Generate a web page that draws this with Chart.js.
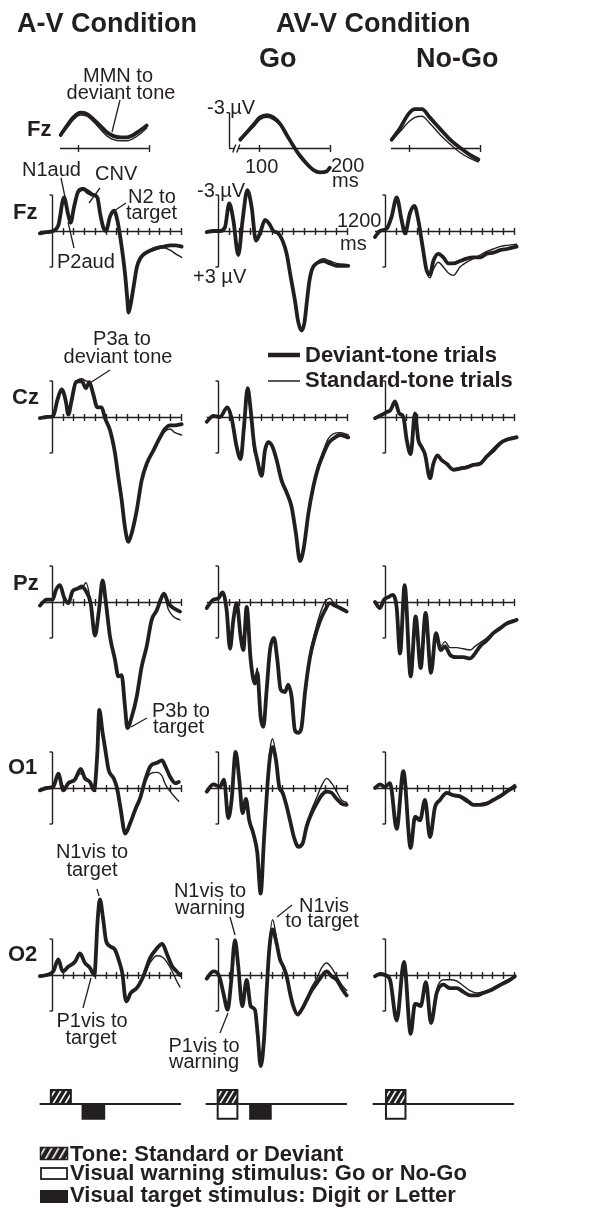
<!DOCTYPE html>
<html>
<head>
<meta charset="utf-8">
<script src="https://cdn.jsdelivr.net/npm/chart.js@4.4.1/dist/chart.umd.min.js"></script>
<style>
  body { margin: 0; width: 602px; height: 1215px; position: relative; overflow: hidden; background: #fff;
         font-family: "Liberation Sans", Arial, Helvetica, sans-serif; color: #231f20; }
  canvas { position: absolute; }
  svg { position: absolute; left: 0; top: 0; }
  .t { position: absolute; white-space: nowrap; line-height: 1; }
</style>
</head>
<body>
<script>
const INK = '#231f20';

// --- Data: times in ms, amplitudes in µV (negative plotted up) ---
const TIME_TICKS = [100, 200, 300, 400, 500, 600, 700, 800, 900, 1000, 1100, 1200];
const MMN_TICKS = [100, 200];

// MMN insets (Fz, 75-200 ms)
const MMN_AV_T = [75, 84, 93, 103, 112, 122, 131, 141, 150, 160, 169, 178, 188, 197];
const MMN_AV_DEV = [-1.1, -1.9, -2.6, -3.0, -2.9, -2.4, -1.9, -1.3, -1.0, -0.9, -0.9, -1.1, -1.5, -1.9];
const MMN_AV_STD = [-1.0, -1.7, -2.4, -2.8, -2.7, -2.2, -1.6, -1.0, -0.7, -0.6, -0.6, -0.8, -1.2, -1.7];
const MMN_GO_T = [73, 82, 92, 101, 111, 120, 130, 139, 149, 158, 168, 177, 186, 196, 200];
const MMN_GO_DEV = [-0.7, -1.3, -2.0, -2.6, -2.8, -2.6, -2.0, -1.1, -0.1, 0.7, 1.4, 1.9, 2.1, 2.0, 1.7];
const MMN_GO_STD = [-0.6, -1.2, -1.8, -2.4, -2.6, -2.4, -1.9, -1.0, 0.0, 0.8, 1.5, 1.9, 2.1, 2.0, 1.7];
const MMN_NOGO_T = [75, 87, 99, 108, 118, 129, 144, 158, 172, 186, 198];
const MMN_NOGO_DEV = [-0.7, -1.7, -2.9, -3.3, -3.3, -2.6, -1.6, -0.7, 0.0, 0.6, 1.0];
const MMN_NOGO_STD = [-0.6, -1.4, -2.2, -2.6, -2.7, -2.1, -1.1, -0.3, 0.4, 0.9, 1.2];

// Fz
const FZ_AV_T = [-112, -50, 10, 60, 112, 150, 174, 205, 245, 290, 338, 384, 422, 447, 477, 502, 540, 577, 608, 640, 680, 700, 712, 730, 760, 790, 820, 860, 920, 980, 1040, 1100, 1150, 1206];
const FZ_AV_DEV = [0.2, 0.1, 0, -0.5, -2.8, -1.4, -0.7, -2.0, -3.3, -3.5, -3.2, -3.0, -2.8, -1.5, -0.3, 0, -1.2, -1.7, -0.9, 0.8, 3.6, 5.6, 6.8, 6.2, 4.6, 3.0, 2.3, 1.9, 1.6, 1.4, 1.3, 1.2, 1.2, 1.3];
const FZ_AV_STD = [0.2, 0.1, 0, -0.5, -2.7, -1.3, -0.6, -2.0, -3.2, -3.6, -3.4, -3.1, -2.8, -1.5, -0.3, 0, -1.1, -1.6, -0.8, 0.9, 3.6, 5.6, 6.7, 6.1, 4.5, 3.0, 2.3, 1.9, 1.7, 1.5, 1.4, 1.6, 1.9, 2.2];
const FZ_GO_T = [-105, -45, 20, 65, 105, 143, 189, 229, 273, 313, 353, 391, 437, 477, 515, 561, 601, 639, 676, 716, 747, 778, 805, 828, 850, 875, 918, 980, 1042, 1104, 1212];
const FZ_GO_DEV = [0.1, 0, 0, -0.3, -2.3, -0.9, 2.0, -0.9, -3.4, -2.0, 0.8, 0.2, -0.9, -0.6, 0, 0.2, 0.8, 1.9, 3.8, 5.8, 7.6, 8.3, 7.6, 5.8, 4.2, 3.2, 2.7, 2.5, 2.7, 2.9, 2.9];
const FZ_GO_STD = [0.1, 0, 0, -0.3, -2.2, -0.8, 1.9, -0.8, -3.3, -2.0, 0.6, 0.0, -1.0, -0.7, -0.1, 0.2, 0.8, 1.9, 3.8, 5.8, 7.6, 8.3, 7.6, 5.8, 4.2, 3.1, 2.6, 2.3, 2.5, 2.7, 2.8];
const FZ_NOGO_T = [-93, -47, 16, 62, 109, 155, 186, 233, 273, 310, 350, 388, 419, 450, 496, 543, 589, 636, 698, 760, 822, 884, 946, 1008, 1070, 1132, 1225];
const FZ_NOGO_DEV = [0.5, 0, -0.2, -1.2, -2.8, -0.9, 0.2, -1.5, -2.1, -0.9, 1.3, 3.3, 3.6, 2.5, 1.9, 2.2, 2.7, 2.7, 2.5, 2.3, 2.2, 2.2, 1.9, 1.8, 1.6, 1.5, 1.3];
const FZ_NOGO_STD = [0.5, 0, -0.2, -1.2, -2.7, -0.9, 0.2, -1.4, -2.0, -0.8, 1.4, 3.4, 3.9, 3.2, 2.6, 3.0, 3.5, 3.7, 3.0, 2.6, 2.3, 2.0, 1.7, 1.5, 1.3, 1.2, 1.1];

// Cz
const CZ_AV_T = [-112, -50, 12, 50, 90, 127, 152, 183, 223, 276, 316, 347, 384, 422, 462, 493, 540, 586, 617, 648, 679, 710, 741, 788, 834, 881, 943, 1005, 1051, 1098, 1144, 1206];
const CZ_AV_DEV = [0.1, 0, -0.1, -1.4, -2.3, -1.4, -0.2, -1.4, -2.9, -3.0, -2.4, -2.9, -1.9, -0.8, -0.8, 0.1, 1.1, 3.0, 5.0, 6.9, 9.2, 10.4, 9.7, 7.8, 5.3, 3.9, 2.8, 1.7, 1.0, 0.7, 0.7, 0.6];
const CZ_AV_STD = [0.1, 0, -0.1, -1.4, -2.3, -1.4, -0.2, -1.4, -2.9, -3.2, -3.0, -2.9, -1.9, -0.8, -0.8, 0.1, 1.1, 3.0, 5.0, 6.9, 9.2, 10.3, 9.6, 7.7, 5.3, 3.9, 2.8, 1.8, 1.2, 1.0, 1.3, 1.5];
const CZ_GO_T = [-105, -43, 19, 87, 127, 174, 211, 242, 276, 304, 335, 366, 406, 437, 468, 508, 546, 592, 639, 685, 725, 763, 800, 840, 887, 933, 980, 1026, 1073, 1135, 1212];
const CZ_GO_DEV = [0.4, -0.1, 0, -0.8, 0.1, 2.5, 3.5, 0.8, -2.4, -0.6, 2.2, 3.6, 4.9, 2.8, 2.1, 2.5, 3.6, 5.3, 6.3, 7.5, 9.7, 12.0, 10.8, 8.1, 5.8, 4.2, 3.1, 2.2, 1.8, 1.5, 1.7];
const CZ_GO_STD = [0.4, -0.1, 0, -0.8, 0.1, 2.3, 3.2, 0.8, -2.2, -0.6, 2.8, 3.4, 4.6, 2.8, 2.1, 2.5, 3.6, 5.3, 6.3, 7.5, 9.7, 11.9, 10.7, 8.0, 5.6, 4.0, 2.8, 1.8, 1.4, 1.3, 1.5];
const CZ_NOGO_T = [-93, -47, 16, 53, 93, 133, 171, 202, 239, 279, 310, 341, 372, 419, 450, 487, 527, 574, 636, 698, 760, 822, 884, 946, 1008, 1070, 1132, 1225];
const CZ_NOGO_DEV = [0.1, -0.1, -0.4, -0.6, -1.3, -0.3, 0, 1.9, 3.1, -0.3, 1.9, 2.5, 3.1, 5.1, 3.9, 3.2, 3.6, 3.9, 4.4, 4.3, 4.2, 4.0, 3.9, 3.3, 2.8, 2.2, 1.9, 1.7];
const CZ_NOGO_STD = [0.1, -0.1, -0.4, -0.6, -1.2, -0.3, 0, 1.8, 2.9, -0.2, 1.9, 2.5, 3.0, 4.9, 3.8, 3.2, 3.6, 3.9, 4.3, 4.2, 4.1, 3.9, 3.8, 3.2, 2.6, 2.1, 1.8, 1.6];

// Pz
const PZ_AV_T = [-112, -50, 6, 37, 74, 112, 152, 192, 236, 276, 316, 360, 400, 437, 471, 502, 540, 586, 617, 648, 679, 701, 741, 788, 834, 881, 927, 974, 1020, 1042, 1082, 1129, 1191];
const PZ_AV_DEV = [0.3, -0.2, -0.2, -1.0, -1.4, -0.4, 0.1, -0.9, -1.1, -1.3, -0.9, 0.1, 2.8, 0.7, -1.8, 0.1, 2.9, 4.8, 6.2, 6.1, 8.7, 10.5, 9.6, 7.9, 5.4, 3.7, 1.5, 0.7, -0.4, -0.7, 0.1, 0.5, 0.8];
const PZ_AV_STD = [0.3, -0.2, -0.2, -1.0, -1.4, -0.4, 0.1, -0.9, -1.1, -1.1, -1.6, 0.0, 2.7, 0.7, -1.8, 0.1, 2.9, 4.8, 6.2, 6.1, 8.6, 10.4, 9.6, 7.9, 5.4, 3.7, 1.5, 0.6, -0.5, -0.6, 0.6, 1.2, 1.5];
const PZ_GO_T = [-105, -43, 3, 43, 81, 112, 143, 174, 211, 236, 267, 304, 344, 366, 397, 422, 453, 484, 521, 552, 583, 623, 654, 685, 716, 747, 778, 809, 856, 902, 949, 995, 1042, 1088, 1135, 1197];
const PZ_GO_DEV = [0.5, -0.2, -0.3, -0.8, 0.7, 3.9, 1.5, 0.1, 2.9, 4.0, 0.4, 4.8, 6.8, 5.9, 9.6, 10.4, 7.3, 4.0, 3.0, 4.8, 7.3, 7.5, 6.9, 7.9, 10.7, 10.9, 10.4, 7.6, 4.6, 2.9, 1.6, 0.7, 0.1, 0.3, 0.5, 0.8];
const PZ_GO_STD = [0.5, -0.2, -0.3, -0.8, 0.7, 3.7, 1.5, 0.1, 2.8, 3.8, 0.5, 4.6, 6.3, 5.5, 9.2, 10.2, 7.2, 4.0, 3.1, 4.8, 7.2, 7.4, 6.8, 7.8, 10.6, 10.8, 10.3, 7.4, 4.3, 2.5, 1.0, 0.0, -0.3, 0.2, 0.4, 0.7];
const PZ_NOGO_T = [-93, -47, -9, 31, 71, 109, 140, 183, 239, 285, 332, 378, 428, 474, 518, 558, 605, 667, 729, 791, 837, 884, 946, 1008, 1070, 1132, 1225];
const PZ_NOGO_DEV = [0, 0.5, -0.2, -0.4, -0.6, 0.5, 4.3, -1.4, 6.2, 1.2, 5.5, 0.9, 5.9, 2.6, 4.0, 3.7, 4.4, 4.6, 4.6, 4.7, 4.3, 3.7, 3.2, 2.6, 2.2, 1.8, 1.5];
const PZ_NOGO_STD = [0, 0.5, -0.2, -0.4, -0.6, 0.5, 4.0, -1.3, 5.8, 1.2, 5.2, 1.0, 5.5, 2.6, 3.7, 3.3, 3.8, 3.8, 3.9, 4.0, 3.7, 3.4, 3.0, 2.5, 2.1, 1.7, 1.4];

// O1
const O1_AV_T = [-112, -50, 12, 59, 105, 152, 214, 267, 307, 353, 391, 422, 440, 471, 496, 527, 574, 605, 636, 682, 729, 775, 822, 868, 915, 977, 1024, 1055, 1101, 1148, 1179];
const O1_AV_DEV = [0.2, 0, -0.1, -1.2, 0.2, -0.4, -0.7, -1.6, -0.8, -0.5, 0.2, -2.9, -6.5, -4.6, -3.2, -1.5, -0.8, 0, 1.6, 3.8, 2.9, 1.8, 0.8, -0.7, -1.8, -2.1, -2.3, -1.8, -0.9, -0.4, -0.5];
const O1_AV_STD = [0.2, 0, -0.1, -1.1, 0.2, -0.4, -0.8, -1.2, -0.9, -0.5, 0.2, -2.9, -6.4, -4.6, -3.2, -1.5, -0.8, 0, 1.5, 3.6, 2.8, 1.6, 0.7, -0.5, -1.2, -1.3, -1.0, -0.3, 0.3, 0.8, 1.1];
const O1_GO_T = [-105, -43, 19, 56, 96, 127, 164, 198, 229, 260, 291, 329, 366, 397, 428, 459, 484, 508, 540, 570, 601, 632, 670, 707, 747, 788, 825, 871, 918, 964, 1011, 1057, 1104, 1150, 1197];
const O1_GO_DEV = [0.3, -0.3, -0.1, -0.7, 2.5, 1.0, -3.0, -0.7, 2.1, 0.9, 2.7, 3.8, 5.4, 8.8, 4.3, -0.1, -2.6, -3.4, -2.3, -0.1, 0.4, 1.3, 2.7, 4.1, 4.9, 4.6, 3.2, 2.1, 1.3, 0.6, 0.3, 0.4, 0.9, 1.3, 1.4];
const O1_GO_STD = [0.3, -0.3, -0.1, -0.7, 2.4, 1.0, -2.9, -0.7, 2.0, 0.9, 2.6, 3.6, 5.2, 8.6, 4.2, -0.5, -3.2, -4.1, -2.6, -0.3, 0.3, 1.2, 2.6, 4.0, 4.8, 4.5, 3.0, 1.8, 0.8, -0.2, -0.8, -0.4, 0.3, 1.0, 1.2];
const O1_NOGO_T = [-93, -47, 0, 47, 109, 171, 239, 279, 326, 372, 419, 465, 512, 574, 636, 698, 760, 822, 884, 946, 1008, 1070, 1132, 1209];
const O1_NOGO_DEV = [0, -0.3, -0.1, -0.4, 3.4, -1.4, 5.0, 2.4, 2.7, 1.0, 4.1, 1.6, 1.0, 0.4, 0.6, 0.7, 1.0, 1.4, 1.4, 1.3, 1.0, 0.7, 0.3, -0.1];
const O1_NOGO_STD = [0, -0.3, -0.1, -0.4, 3.3, -1.3, 4.8, 2.3, 2.5, 1.0, 3.9, 1.6, 0.9, 0.5, 0.7, 0.8, 1.2, 1.3, 1.3, 1.2, 0.9, 0.6, 0.2, -0.3];

// O2
const O2_AV_T = [-112, -50, 12, 59, 99, 152, 214, 260, 307, 353, 394, 425, 446, 477, 502, 540, 586, 626, 657, 679, 694, 732, 788, 850, 912, 974, 1026, 1067, 1113, 1160, 1191];
const O2_AV_DEV = [0.1, 0, -0.3, -1.3, -0.3, -0.7, -1.1, -1.8, -1.0, -0.6, 0, -4.6, -6.3, -4.6, -2.9, -2.4, -2.1, -1.1, 0, 1.8, 2.2, 1.5, 1.1, 0.1, -1.4, -2.2, -2.6, -1.8, -0.8, -0.3, 0];
const O2_AV_STD = [0.1, 0, -0.3, -1.2, -0.3, -0.7, -1.1, -1.7, -1.0, -0.6, 0, -4.5, -6.2, -4.6, -2.9, -2.4, -2.0, -1.1, 0, 1.7, 2.0, 1.4, 1.0, 0.2, -1.0, -1.6, -1.5, -1.1, -0.4, 0.5, 1.0];
const O2_GO_T = [-105, -43, 12, 50, 90, 121, 158, 189, 226, 267, 304, 344, 369, 397, 428, 453, 477, 508, 546, 577, 608, 639, 670, 701, 741, 778, 825, 871, 918, 964, 1011, 1057, 1104, 1150, 1197];
const O2_GO_DEV = [0.3, -0.3, 0.1, 1.5, 2.9, 0.7, -2.9, -0.7, 2.6, 0.4, 2.6, 2.9, 4.9, 7.6, 5.4, 1.3, -2.1, -3.8, -2.6, -1.3, -0.7, 0.1, 1.5, 2.6, 3.3, 2.9, 2.1, 1.3, 0.7, 0.1, -0.3, 0.1, 0.4, 1.1, 1.7];
const O2_GO_STD = [0.3, -0.3, 0.1, 1.4, 2.7, 0.7, -2.8, -0.7, 2.5, 0.4, 2.5, 2.8, 4.7, 7.4, 5.2, 1.0, -2.6, -4.6, -3.0, -1.4, -0.7, 0.1, 1.5, 2.6, 3.2, 2.8, 1.9, 1.0, 0.3, -0.6, -1.0, -0.6, 0.1, 0.8, 1.3];
const O2_NOGO_T = [-93, -47, 0, 47, 109, 177, 239, 279, 332, 381, 428, 481, 543, 605, 667, 729, 791, 853, 915, 977, 1039, 1101, 1163, 1209];
const O2_NOGO_DEV = [0.1, -0.1, 0, 0.4, 3.8, -1.1, 4.9, 2.4, 2.6, 0.6, 4.0, 1.5, 0.8, 1.1, 1.1, 1.4, 1.7, 1.7, 1.5, 1.3, 1.0, 0.7, 0.4, 0.1];
const O2_NOGO_STD = [0.1, -0.1, 0, 0.4, 3.6, -1.0, 4.7, 2.3, 2.4, 0.6, 3.7, 1.2, 0.4, 0.4, 0.5, 0.9, 1.3, 1.5, 1.4, 1.2, 0.9, 0.6, 0.3, 0.1];

// Stimulus timing (ms) per column: A-V, AV-V Go, AV-V No-Go
const TONE_BOX = [[-20, 185], [-12, 190], [0, 200]];
const WARN_BOX = [null, [-12, 190], [0, 200]];
const TARGET_BOX = [[275, 495], [290, 500], null];

// --- Layout ---
const PX_PER_MS = 0.1075, PX_PER_UV = 12;
const COL_X0 = [52, 218, 385];
const ROW_Y0 = { Fz: 231, Cz: 417, Pz: 602, O1: 788, O2: 975 };
const MMN_X100 = [78, 259, 409], MMN_Y0 = 148, MMN_PX_PER_MS = 0.705, MMN_PX_PER_UV = 11.7;
const TIMELINE_Y0 = 1104;

const PANELS = [
  ['Fz', 0, FZ_AV_T, FZ_AV_DEV, FZ_AV_STD], ['Fz', 1, FZ_GO_T, FZ_GO_DEV, FZ_GO_STD], ['Fz', 2, FZ_NOGO_T, FZ_NOGO_DEV, FZ_NOGO_STD],
  ['Cz', 0, CZ_AV_T, CZ_AV_DEV, CZ_AV_STD], ['Cz', 1, CZ_GO_T, CZ_GO_DEV, CZ_GO_STD], ['Cz', 2, CZ_NOGO_T, CZ_NOGO_DEV, CZ_NOGO_STD],
  ['Pz', 0, PZ_AV_T, PZ_AV_DEV, PZ_AV_STD], ['Pz', 1, PZ_GO_T, PZ_GO_DEV, PZ_GO_STD], ['Pz', 2, PZ_NOGO_T, PZ_NOGO_DEV, PZ_NOGO_STD],
  ['O1', 0, O1_AV_T, O1_AV_DEV, O1_AV_STD], ['O1', 1, O1_GO_T, O1_GO_DEV, O1_GO_STD], ['O1', 2, O1_NOGO_T, O1_NOGO_DEV, O1_NOGO_STD],
  ['O2', 0, O2_AV_T, O2_AV_DEV, O2_AV_STD], ['O2', 1, O2_GO_T, O2_GO_DEV, O2_GO_STD], ['O2', 2, O2_NOGO_T, O2_NOGO_DEV, O2_NOGO_STD]
];
const MMN_PANELS = [
  [0, MMN_AV_T, MMN_AV_DEV, MMN_AV_STD], [1, MMN_GO_T, MMN_GO_DEV, MMN_GO_STD], [2, MMN_NOGO_T, MMN_NOGO_DEV, MMN_NOGO_STD]
];

// --- Plugins ---
function seg(ctx, a, b, c, d) { ctx.beginPath(); ctx.moveTo(a, b); ctx.lineTo(c, d); ctx.stroke(); }

const erpAxes = {
  id: 'erpAxes',
  beforeDatasetsDraw(chart, args, o) {
    const { ctx, scales: { x, y } } = chart;
    const zy = Math.round(y.getPixelForValue(0)) + 0.5;
    ctx.save();
    ctx.strokeStyle = INK;
    ctx.lineWidth = 1.4;
    const x1 = x.getPixelForValue(o.from), x2 = x.getPixelForValue(o.to);
    if (o.brk != null) {
      const bx = x.getPixelForValue(o.brk);
      seg(ctx, x1, zy, bx - 2, zy);
      seg(ctx, bx + 2, zy, x2, zy);
      seg(ctx, bx - 4, zy + 4, bx - 1, zy - 4);
      seg(ctx, bx, zy + 4, bx + 3, zy - 4);
    } else {
      seg(ctx, x1, zy, x2, zy);
    }
    o.ticks.forEach(t => {
      const px = Math.round(x.getPixelForValue(t)) + 0.5;
      seg(ctx, px, zy - 3.5, px, zy + 3.5);
    });
    if (o.bar) {
      const bx = Math.round(x.getPixelForValue(o.bar[0])) + 0.5;
      const y1 = y.getPixelForValue(o.bar[1]), y2 = y.getPixelForValue(o.bar[2]);
      seg(ctx, bx, y1, bx, y2);
      seg(ctx, bx - 3, y1, bx, y1);
      if (o.bar[2] !== 0) seg(ctx, bx - 3, y2, bx, y2);
    }
    ctx.restore();
  }
};

const stimBoxes = {
  id: 'stimBoxes',
  afterDraw(chart, args, o) {
    const { ctx, scales: { x, y } } = chart;
    const zy = y.getPixelForValue(0);
    ctx.save();
    ctx.strokeStyle = INK;
    ctx.lineWidth = 2;
    seg(ctx, x.getPixelForValue(o.from), zy, x.getPixelForValue(o.to), zy);
    const box = (r, lo, hi) => {
      const bx = x.getPixelForValue(r[0]), bw = x.getPixelForValue(r[1]) - bx;
      const by = y.getPixelForValue(hi), bh = y.getPixelForValue(lo) - by;
      return [bx, by, bw, bh];
    };
    if (o.tone) {
      const [bx, by, bw, bh] = box(o.tone, 0, 1);
      ctx.fillStyle = INK;
      ctx.fillRect(bx, by, bw, bh);
      ctx.save();
      ctx.beginPath(); ctx.rect(bx + 2, by + 2, bw - 4, bh - 3); ctx.clip();
      ctx.strokeStyle = '#fff'; ctx.lineWidth = 1.6;
      for (let k = -bh; k < bw + bh; k += 6) seg(ctx, bx + k, by + bh, bx + k + bh * 0.6, by);
      ctx.restore();
    }
    if (o.warn) {
      const [bx, by, bw, bh] = box(o.warn, -1.05, 0);
      ctx.fillStyle = '#fff';
      ctx.fillRect(bx, by, bw, bh);
      ctx.lineWidth = 2;
      ctx.strokeRect(bx + 1, by, bw - 2, bh - 1);
    }
    if (o.target) {
      const [bx, by, bw, bh] = box(o.target, -1.05, 0);
      ctx.fillStyle = INK;
      ctx.fillRect(bx, by, bw, bh);
    }
    ctx.restore();
  }
};

// --- Chart factory ---
function pts(t, v) { return t.map((ms, i) => ({ x: ms, y: v[i] })); }

function makeChart(cfg) {
  const cv = document.createElement('canvas');
  cv.width = cfg.width; cv.height = cfg.height;
  cv.style.left = cfg.left + 'px'; cv.style.top = cfg.top + 'px';
  document.body.appendChild(cv);
  const xmax = cfg.xmin + cfg.width / cfg.pxms;
  const ymax = cfg.ymin + cfg.height / cfg.pxuv;
  return new Chart(cv.getContext('2d'), {
    type: 'line',
    data: { datasets: cfg.datasets || [] },
    options: {
      responsive: false, animation: false, events: [], devicePixelRatio: 1,
      layout: { padding: 0, autoPadding: false },
      elements: { point: { radius: 0 } },
      plugins: { legend: { display: false }, tooltip: { enabled: false }, erpAxes: cfg.axes || false, stimBoxes: cfg.stim || false },
      scales: {
        x: { type: 'linear', min: cfg.xmin, max: xmax, display: false },
        y: { type: 'linear', min: cfg.ymin, max: ymax, reverse: cfg.reverse, display: false }
      }
    },
    plugins: cfg.plugins
  });
}

function traces(t, dev, std) {
  const common = { borderColor: INK, cubicInterpolationMode: 'monotone', borderJoinStyle: 'round', borderCapStyle: 'round', fill: false, clip: false };
  return [
    { ...common, data: pts(t, std), borderWidth: 1.4 },
    { ...common, data: pts(t, dev), borderWidth: 3.8 }
  ];
}

// main ERP panels
PANELS.forEach(([row, col, t, dev, std]) => {
  const xmin = -130, ymin = -8;
  makeChart({
    left: COL_X0[col] + xmin * PX_PER_MS, top: ROW_Y0[row] + ymin * PX_PER_UV,
    width: 152, height: 264, xmin, ymin, pxms: PX_PER_MS, pxuv: PX_PER_UV, reverse: true,
    datasets: traces(t, dev, std),
    axes: { from: t[0], to: 1200, ticks: TIME_TICKS, bar: [0, -3, 3] },
    plugins: [erpAxes]
  });
});

// MMN insets
MMN_PANELS.forEach(([col, t, dev, std]) => {
  const xmin = 40, ymin = -4.6;
  const x0 = MMN_X100[col] - 100 * MMN_PX_PER_MS;
  const axes = col === 1
    ? { from: 57, to: 200, ticks: MMN_TICKS, bar: [57, -3, 0], brk: 68 }
    : { from: t[0] - 1, to: 200, ticks: MMN_TICKS };
  makeChart({
    left: x0 + xmin * MMN_PX_PER_MS, top: MMN_Y0 + ymin * MMN_PX_PER_UV,
    width: 126, height: 96, xmin, ymin, pxms: MMN_PX_PER_MS, pxuv: MMN_PX_PER_UV, reverse: true,
    datasets: traces(t, dev, std), axes, plugins: [erpAxes]
  });
});

// stimulus timelines
COL_X0.forEach((x0, col) => {
  const xmin = -130, ymin = -1.6, pxu = 15;
  makeChart({
    left: x0 + xmin * PX_PER_MS, top: TIMELINE_Y0 - 1.6 * pxu,
    width: 152, height: 48, xmin, ymin, pxms: PX_PER_MS, pxuv: pxu, reverse: false,
    stim: { from: -115, to: 1200, tone: TONE_BOX[col], warn: WARN_BOX[col], target: TARGET_BOX[col] },
    plugins: [stimBoxes]
  });
});

// --- Overlay: pointer lines and legend keys ---
const POINTERS = [
  [120, 100, 112, 132], [61, 178, 65, 197], [100, 188, 89, 203], [126, 203, 114, 211], [68, 222, 74, 248],
  [110, 370, 90, 383], [147, 718, 131, 727], [97, 889, 99, 896], [83, 1008, 91, 978],
  [230, 917, 235, 935], [292, 905, 277, 917], [220, 1033, 228, 1013]
];
let svg = '<svg width="602" height="1215" xmlns="http://www.w3.org/2000/svg">' +
  '<defs><pattern id="hatch" width="6" height="6" patternUnits="userSpaceOnUse" patternTransform="rotate(30)">' +
  '<rect width="6" height="6" fill="' + INK + '"/><rect width="1.6" height="6" fill="#fff"/></pattern></defs>';
POINTERS.forEach(p => {
  svg += `<line x1="${p[0]}" y1="${p[1]}" x2="${p[2]}" y2="${p[3]}" stroke="${INK}" stroke-width="1.3"/>`;
});
svg += `<line x1="268" y1="355" x2="300" y2="355" stroke="${INK}" stroke-width="4.5"/>`;
svg += `<line x1="268" y1="381" x2="300" y2="381" stroke="${INK}" stroke-width="1.5"/>`;
svg += `<rect x="40.5" y="1147.5" width="27" height="12" fill="url(#hatch)" stroke="${INK}" stroke-width="1.5"/>`;
svg += `<rect x="41" y="1168" width="26" height="11" fill="#fff" stroke="${INK}" stroke-width="1.8"/>`;
svg += `<rect x="40" y="1190" width="28" height="13" fill="${INK}"/>`;
svg += '</svg>';
document.body.insertAdjacentHTML('beforeend', svg);

// --- Text ---
function addText(str, x, baseline, size, bold, align) {
  const d = document.createElement('div');
  d.className = 't';
  d.textContent = str;
  d.style.fontSize = size + 'px';
  d.style.fontWeight = bold ? 'bold' : 'normal';
  d.style.top = (baseline - 0.846 * size) + 'px';
  d.style.left = x + 'px';
  if (align === 'c') d.style.transform = 'translateX(-50%)';
  document.body.appendChild(d);
}

[
  ['A-V Condition', 17, 33], ['AV-V Condition', 276, 33], ['Go', 259, 68], ['No-Go', 416, 68]
].forEach(([s, x, b]) => addText(s, x, b, 27, true));

[
  ['Fz', 27, 137], ['Fz', 13, 220], ['Cz', 12, 405], ['Pz', 13, 591], ['O1', 8, 775], ['O2', 8, 962],
  ['Deviant-tone trials', 305, 363], ['Standard-tone trials', 305, 388],
  ['Tone: Standard or Deviant', 70, 1162], ['Visual warning stimulus: Go or No-Go', 70, 1181],
  ['Visual target stimulus: Digit or Letter', 70, 1203]
].forEach(([s, x, b]) => addText(s, x, b, 22, true));

[
  ['N1aud', 22, 176], ['CNV', 95, 180], ['N2 to', 128, 203], ['target', 126, 219], ['P2aud', 57, 268],
  ['-3 \u00b5V', 197, 197], ['+3 \u00b5V', 193, 283], ['1200', 337, 227], ['ms', 340, 250],
  ['-3 \u00b5V', 207, 114], ['100', 245, 173], ['200', 331, 172], ['ms', 332, 187],
  ['P3b to', 152, 717], ['target', 153, 733]
].forEach(([s, x, b]) => addText(s, x, b, 20, false));

[
  ['MMN to', 118, 82], ['deviant tone', 121, 99], ['P3a to', 122, 345], ['deviant tone', 118, 363],
  ['N1vis to', 92, 858], ['target', 92, 876], ['N1vis to', 210, 897], ['warning', 210, 914],
  ['N1vis', 324, 912], ['to target', 322, 927], ['P1vis to', 92, 1027], ['target', 91, 1044],
  ['P1vis to', 204, 1052], ['warning', 204, 1068]
].forEach(([s, x, b]) => addText(s, x, b, 20, false, 'c'));
</script>
</body>
</html>
